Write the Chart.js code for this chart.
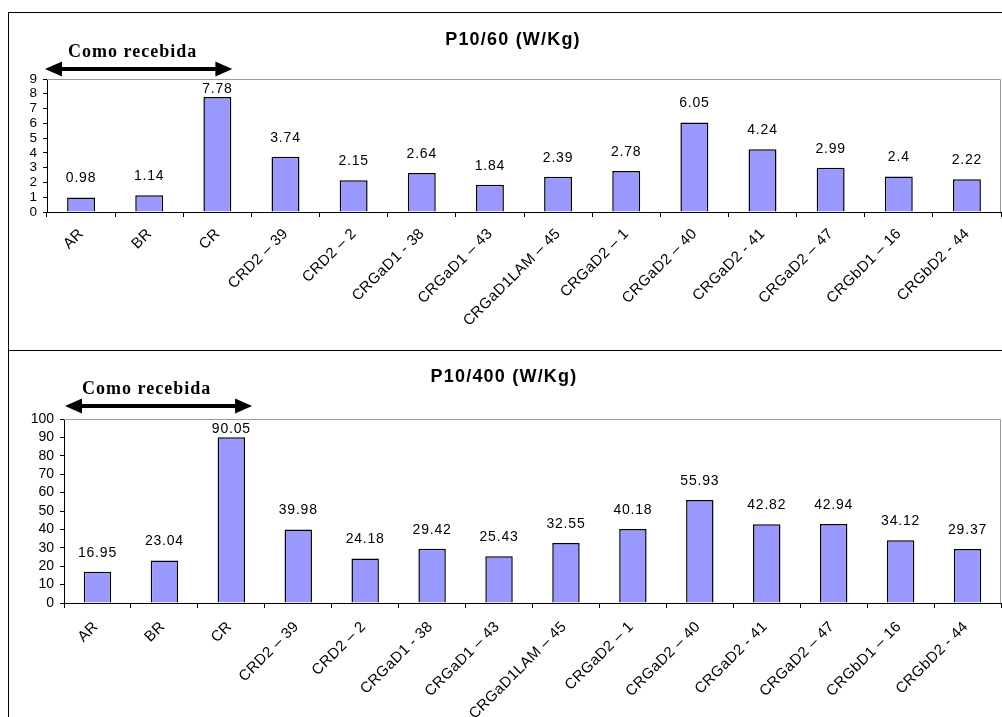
<!DOCTYPE html>
<html>
<head>
<meta charset="utf-8">
<script src="https://cdn.jsdelivr.net/npm/chart.js@4/dist/chart.umd.min.js"></script>
<style>
  html, body { margin:0; padding:0; background:#fff; overflow:hidden; width:1002px; height:717px; }
  .box { position:absolute; border:1px solid #000; box-sizing:border-box; }
  .cv { position:absolute; }
</style>
</head>
<body>
<div class="box" style="left:8px; top:12px; width:1010px; height:339px;"></div>
<div class="box" style="left:8px; top:350px; width:1010px; height:380px;"></div>
<canvas id="c1" class="cv" width="993" height="337" style="left:9px; top:13px;"></canvas>
<canvas id="c2" class="cv" width="993" height="366" style="left:9px; top:351px;"></canvas>
<script>
// ---- data ----
const categories = ["AR", "BR", "CR", "CRD2 \u2013 39", "CRD2 \u2013 2", "CRGaD1 - 38", "CRGaD1 \u2013 43",
  "CRGaD1LAM \u2013 45", "CRGaD2 \u2013 1", "CRGaD2 \u2013 40", "CRGaD2 - 41", "CRGaD2 \u2013 47",
  "CRGbD1 \u2013 16", "CRGbD2 - 44"];
const p60Values = [0.98, 1.14, 7.78, 3.74, 2.15, 2.64, 1.84, 2.39, 2.78, 6.05, 4.24, 2.99, 2.4, 2.22];
const p400Values = [16.95, 23.04, 90.05, 39.98, 24.18, 29.42, 25.43, 32.55, 40.18, 55.93, 42.82, 42.94, 34.12, 29.37];
const p60Ticks = {min: 0, max: 9, step: 1};
const p400Ticks = {min: 0, max: 100, step: 10};
const title60 = "P10/60 (W/Kg)";
const title400 = "P10/400 (W/Kg)";
const noteText = "Como recebida";
const noteLastCategory = 2; // arrow spans AR..CR

const SANS = "'Liberation Sans', Arial, sans-serif";
const SERIF = "'Liberation Serif', 'Times New Roman', serif";

function setSpacing(ctx, v) { try { ctx.letterSpacing = v; } catch(e) {} }

function decorPlugin(cfg) {
  return {
    id: 'decor',
    afterDraw(chart) {
      const ctx = chart.ctx;
      const a = chart.chartArea;
      const xs = chart.scales.x;
      ctx.save();
      // plot frame (gray top and right)
      ctx.strokeStyle = '#9a9a9a';
      ctx.lineWidth = 1;
      ctx.beginPath();
      ctx.moveTo(a.left, a.top + 0.5);
      ctx.lineTo(a.right - 0.5, a.top + 0.5);
      ctx.lineTo(a.right - 0.5, a.bottom);
      ctx.stroke();
      // title
      ctx.fillStyle = '#000';
      ctx.font = 'bold 18px ' + SANS;
      setSpacing(ctx, '1.2px');
      ctx.textAlign = 'center';
      ctx.textBaseline = 'alphabetic';
      ctx.fillText(cfg.title, cfg.titleX, cfg.titleY);
      // note text
      ctx.font = 'bold 18px ' + SERIF;
      setSpacing(ctx, '1px');
      ctx.textAlign = 'left';
      ctx.fillText(noteText, a.left + cfg.noteDx, cfg.arrowY - 12);
      // rotated category labels
      ctx.font = '15px ' + SANS;
      setSpacing(ctx, '0.4px');
      ctx.textAlign = 'right';
      ctx.textBaseline = 'top';
      categories.forEach((lab, i) => {
        const cx = xs.getPixelForValue(i);
        ctx.save();
        ctx.translate(cx - cfg.labDx, xs.top + cfg.labDy);
        ctx.rotate(-Math.PI / 4);
        ctx.fillText(lab, 0, 0);
        ctx.restore();
      });
      setSpacing(ctx, '0px');
      // arrow
      const catW = (a.right - a.left) / categories.length;
      const x1 = a.left + cfg.arrowDx;
      const x2 = xs.getPixelForValue(noteLastCategory) + catW * cfg.arrowEnd;
      const y = cfg.arrowY;
      const hl = 17, hh = 7.5;
      ctx.strokeStyle = '#000';
      ctx.lineWidth = 4;
      ctx.beginPath();
      ctx.moveTo(x1 + hl - 2, y);
      ctx.lineTo(x2 - hl + 2, y);
      ctx.stroke();
      ctx.beginPath();
      ctx.moveTo(x1, y); ctx.lineTo(x1 + hl, y - hh); ctx.lineTo(x1 + hl, y + hh); ctx.closePath();
      ctx.fill();
      ctx.beginPath();
      ctx.moveTo(x2, y); ctx.lineTo(x2 - hl, y - hh); ctx.lineTo(x2 - hl, y + hh); ctx.closePath();
      ctx.fill();
      ctx.restore();
    },
    afterDatasetsDraw(chart) {
      const ctx = chart.ctx;
      const a = chart.chartArea;
      const meta = chart.getDatasetMeta(0);
      const vals = chart.data.datasets[0].data;
      ctx.save();
      ctx.fillStyle = '#000';
      ctx.font = '14px ' + SANS;
      setSpacing(ctx, '0.8px');
      ctx.textAlign = 'center';
      ctx.textBaseline = 'bottom';
      meta.data.forEach((bar, i) => {
        let yb = bar.y - 12;
        const minBottom = a.top + 4 + 13;
        if (yb < minBottom) yb = minBottom;
        ctx.fillText(String(vals[i]), bar.x, yb);
      });
      ctx.restore();
    }
  };
}

function makeChart(id, values, ticks, cfg) {
  return new Chart(document.getElementById(id), {
    type: 'bar',
    data: {
      labels: categories,
      datasets: [{
        data: values,
        backgroundColor: '#9999ff',
        borderColor: '#000',
        borderWidth: 1.5,
        barPercentage: 0.41,
        categoryPercentage: 1.0
      }]
    },
    options: {
      responsive: false,
      animation: false,
      events: [],
      layout: { padding: { top: cfg.padTop, right: 1, left: 0, bottom: 0 } },
      plugins: { legend: { display: false }, title: { display: false }, tooltip: { enabled: false } },
      scales: {
        x: {
          offset: true,
          grid: { display: true, offset: true, drawOnChartArea: false, drawTicks: true, color: '#000', tickLength: 5, lineWidth: 1 },
          border: { display: true, color: '#000', width: 1 },
          ticks: { display: false, autoSkip: false },
          afterFit(s) { s.height = cfg.xHeight; s.paddingLeft = 0; s.paddingRight = 0; }
        },
        y: {
          min: ticks.min, max: ticks.max,
          grid: { display: true, drawOnChartArea: false, color: '#000', tickLength: 4 },
          border: { display: true, color: '#000', width: 1 },
          ticks: {
            stepSize: ticks.step, autoSkip: false, color: '#000', padding: 6,
            font: { family: SANS, size: cfg.yFont }
          },
          afterFit(s) { s.width = cfg.yWidth; s.paddingTop = 0; s.paddingBottom = 0; }
        }
      }
    },
    plugins: [decorPlugin(cfg)]
  });
}

makeChart('c1', p60Values, p60Ticks, {
  padTop: 66, xHeight: 138, yWidth: 38, yFont: 13.5,
  title: title60, titleX: 504, titleY: 32,
  arrowY: 56, arrowDx: -2, arrowEnd: 0.22, noteDx: 21,
  labDx: 5, labDy: 14
});
makeChart('c2', p400Values, p400Ticks, {
  padTop: 68, xHeight: 114, yWidth: 55, yFont: 14,
  title: title400, titleX: 495, titleY: 31,
  arrowY: 55, arrowDx: 1, arrowEnd: 0.31, noteDx: 18,
  labDx: 7, labDy: 16
});
</script>
</body>
</html>
